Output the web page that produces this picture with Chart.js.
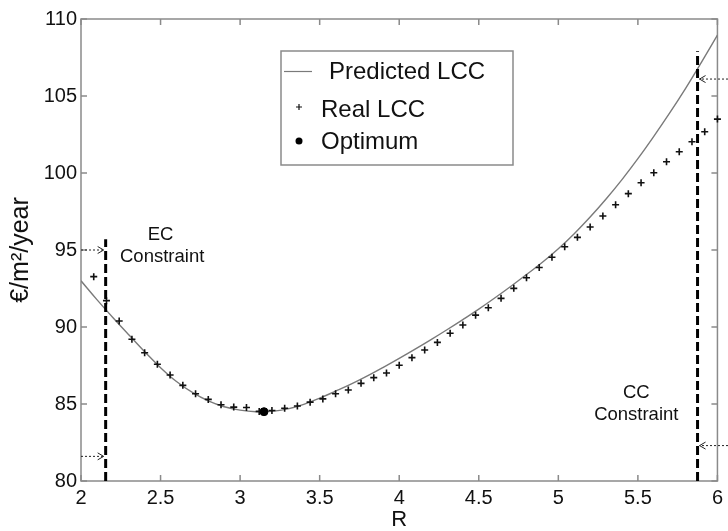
<!DOCTYPE html>
<html>
<head>
<meta charset="UTF-8">
<title>Predicted vs Real LCC</title>
<script src="https://cdn.jsdelivr.net/npm/chart.js@4.4.1/dist/chart.umd.min.js"></script>
<style>
    html, body { margin: 0; padding: 0; background: #fff; }
</style>
</head>
<body>
<canvas id="myChart" width="728" height="531"></canvas>
<script>
    // predicted life cycle cost curve
    var predR = [2.0, 2.1, 2.2, 2.3, 2.4, 2.5, 2.6, 2.7, 2.8, 2.9, 3.0, 3.1, 3.2, 3.3, 3.4, 3.5, 3.6, 3.7, 3.8, 3.9, 4.0,
                 4.1, 4.2, 4.3, 4.4, 4.5, 4.6, 4.7, 4.8, 4.9, 5.0, 5.1, 5.2, 5.3, 5.4, 5.5, 5.6, 5.7, 5.8, 5.9, 6.0];
    var predLCC = [93.0, 91.78, 90.62, 89.5, 88.4, 87.36, 86.46, 85.75, 85.2, 84.82, 84.6, 84.5, 84.52, 84.68, 84.98, 85.38,
                   85.83, 86.3, 86.82, 87.38, 87.96, 88.56, 89.18, 89.82, 90.48, 91.16, 91.88, 92.63, 93.41, 94.2, 95.08,
                   96.06, 97.14, 98.31, 99.57, 100.93, 102.38, 103.9, 105.5, 107.2, 108.95];

    // real life cycle cost samples
    var realR = [2.08, 2.16, 2.24, 2.32, 2.40, 2.48, 2.56, 2.64, 2.72, 2.80, 2.88, 2.96, 3.04, 3.12, 3.20, 3.28, 3.36,
                 3.44, 3.52, 3.60, 3.68, 3.76, 3.84, 3.92, 4.00, 4.08, 4.16, 4.24, 4.32, 4.40, 4.48, 4.56, 4.64, 4.72,
                 4.80, 4.88, 4.96, 5.04, 5.12, 5.20, 5.28, 5.36, 5.44, 5.52, 5.60, 5.68, 5.76, 5.84, 5.92, 6.00];
    var realLCC = [93.27, 91.71, 90.39, 89.2, 88.33, 87.58, 86.88, 86.21, 85.67, 85.30, 84.95, 84.80, 84.77, 84.52, 84.58,
                   84.72, 84.87, 85.12, 85.33, 85.67, 85.91, 86.34, 86.71, 87.01, 87.52, 88.01, 88.51, 89.0, 89.59, 90.13,
                   90.77, 91.25, 91.86, 92.51, 93.2, 93.86, 94.53, 95.21, 95.82, 96.49, 97.21, 97.94, 98.66, 99.37,
                   100.02, 100.73, 101.38, 102.03, 102.68, 103.5];

    var optR = [3.15];
    var optLCC = [84.5];

    // constraints
    var ecR = 2.155, ecTop = 95.7, ecArrows = [95.0, 81.6];
    var ccR = 5.875, ccTop = 107.9, ccArrows = [106.1, 82.3];

    var xTicks = [2, 2.5, 3, 3.5, 4, 4.5, 5, 5.5, 6];
    var yTicks = [80, 85, 90, 95, 100, 105, 110];

    var FONT = '"Liberation Sans", Arial, Helvetica, sans-serif';

    function pts(xs, ys) {
        return xs.map(function(v, i) { return {x: v, y: ys[i]}; });
    }

    function hArrow(ctx, xFrom, xTo, yPix) {
        ctx.save();
        ctx.strokeStyle = '#222';
        ctx.lineWidth = 1;
        ctx.setLineDash([2, 2]);
        ctx.beginPath();
        ctx.moveTo(xFrom, yPix);
        ctx.lineTo(xTo, yPix);
        ctx.stroke();
        ctx.setLineDash([]);
        var d = xTo > xFrom ? -1 : 1;
        ctx.beginPath();
        ctx.moveTo(xTo + d * 6, yPix - 3.5);
        ctx.lineTo(xTo, yPix);
        ctx.lineTo(xTo + d * 6, yPix + 3.5);
        ctx.stroke();
        ctx.restore();
    }

    var framePlugin = {
        id: 'frame',
        beforeDatasetsDraw: function(chart) {
            var ctx = chart.ctx, a = chart.chartArea, xs = chart.scales.x, ys = chart.scales.y;
            ctx.save();
            ctx.strokeStyle = '#8a8a8a';
            ctx.lineWidth = 1.5;
            ctx.strokeRect(a.left, a.top, a.right - a.left, a.bottom - a.top);
            ctx.beginPath();
            xTicks.forEach(function(v) {
                var p = xs.getPixelForValue(v);
                ctx.moveTo(p, a.bottom); ctx.lineTo(p, a.bottom - 6);
                ctx.moveTo(p, a.top); ctx.lineTo(p, a.top + 6);
            });
            yTicks.forEach(function(v) {
                var p = ys.getPixelForValue(v);
                ctx.moveTo(a.left, p); ctx.lineTo(a.left + 6, p);
                ctx.moveTo(a.right, p); ctx.lineTo(a.right - 6, p);
            });
            ctx.stroke();
            ctx.restore();
        },
        afterDatasetsDraw: function(chart) {
            var ctx = chart.ctx, a = chart.chartArea, xs = chart.scales.x, ys = chart.scales.y;
            var ecPix = xs.getPixelForValue(ecR), ccPix = xs.getPixelForValue(ccR);
            ecArrows.forEach(function(v) { hArrow(ctx, a.left, ecPix - 2, ys.getPixelForValue(v)); });
            ccArrows.forEach(function(v) { hArrow(ctx, chart.width, ccPix + 2, ys.getPixelForValue(v)); });

            ctx.save();
            ctx.fillStyle = '#111';
            ctx.textAlign = 'center';
            ctx.textBaseline = 'middle';
            ctx.font = '18.5px ' + FONT;
            ctx.fillText('EC', xs.getPixelForValue(2.5), ys.getPixelForValue(95.97));
            ctx.fillText('Constraint', xs.getPixelForValue(2.51), ys.getPixelForValue(94.55));
            ctx.fillText('CC', xs.getPixelForValue(5.49), ys.getPixelForValue(85.71));
            ctx.fillText('Constraint', xs.getPixelForValue(5.49), ys.getPixelForValue(84.29));

            // legend box
            var lx = a.left + 200, ly = a.top + 32, lw = 232, lh = 114;
            ctx.fillStyle = '#fff';
            ctx.fillRect(lx, ly, lw, lh);
            ctx.strokeStyle = '#8a8a8a';
            ctx.lineWidth = 1.5;
            ctx.strokeRect(lx, ly, lw, lh);

            ctx.strokeStyle = '#7a7a7a';
            ctx.lineWidth = 1.2;
            ctx.beginPath();
            ctx.moveTo(lx + 3, ly + 20.5); ctx.lineTo(lx + 31, ly + 20.5);
            ctx.stroke();

            ctx.strokeStyle = '#111';
            ctx.lineWidth = 1.2;
            ctx.beginPath();
            ctx.moveTo(lx + 15, ly + 56); ctx.lineTo(lx + 21, ly + 56);
            ctx.moveTo(lx + 18, ly + 53); ctx.lineTo(lx + 18, ly + 59);
            ctx.stroke();

            ctx.fillStyle = '#000';
            ctx.beginPath();
            ctx.arc(lx + 18, ly + 90, 3.5, 0, Math.PI * 2);
            ctx.fill();

            ctx.fillStyle = '#111';
            ctx.textAlign = 'left';
            ctx.font = '24px ' + FONT;
            ctx.fillText('Predicted LCC', lx + 48, ly + 21);
            ctx.fillText('Real LCC', lx + 40, ly + 59);
            ctx.fillText('Optimum', lx + 40, ly + 91);
            ctx.restore();
        }
    };

    var myChart = new Chart('myChart', {
        type: 'scatter',
        data: {
            datasets: [{
                label: 'EC Constraint',
                type: 'line',
                data: pts([ecR, ecR], [80, ecTop]),
                borderColor: '#000',
                borderWidth: 3,
                borderDash: [9, 4],
                pointRadius: 0,
                order: 0
            }, {
                label: 'CC Constraint',
                type: 'line',
                data: pts([ccR, ccR], [80, ccTop]),
                borderColor: '#000',
                borderWidth: 3,
                borderDash: [9, 4],
                pointRadius: 0,
                order: 0
            }, {
                label: 'Optimum',
                data: pts(optR, optLCC),
                pointStyle: 'circle',
                pointRadius: 4,
                backgroundColor: '#000',
                borderColor: '#000',
                order: 1
            }, {
                label: 'Real LCC',
                data: pts(realR, realLCC),
                pointStyle: 'cross',
                pointRadius: 3.5,
                borderColor: '#111',
                borderWidth: 1.6,
                clip: false,
                order: 2
            }, {
                label: 'Predicted LCC',
                type: 'line',
                data: pts(predR, predLCC),
                borderColor: '#7a7a7a',
                borderWidth: 1.4,
                pointRadius: 0,
                tension: 0.4,
                order: 3
            }]
        },
        options: {
            responsive: false,
            animation: false,
            layout: { padding: { top: 19, right: 6, left: 0, bottom: 0 } },
            plugins: { legend: { display: false }, tooltip: { enabled: false } },
            scales: {
                x: {
                    type: 'linear', min: 2, max: 6,
                    afterBuildTicks: function(s) { s.ticks = xTicks.map(function(v) { return {value: v}; }); },
                    afterFit: function(s) { s.height = 50; },
                    grid: { display: false, drawTicks: false },
                    border: { display: false },
                    ticks: {
                        color: '#111', padding: 5,
                        font: { family: FONT, size: 20 },
                        callback: function(v) { return String(v); }
                    },
                    title: {
                        display: true, text: 'R', color: '#111',
                        font: { family: FONT, size: 22, lineHeight: 1 },
                        padding: { top: 0, bottom: 0 }
                    }
                },
                y: {
                    type: 'linear', min: 80, max: 110,
                    afterBuildTicks: function(s) { s.ticks = yTicks.map(function(v) { return {value: v}; }); },
                    afterFit: function(s) { s.width = 81; },
                    grid: { display: false, drawTicks: false },
                    border: { display: false },
                    ticks: {
                        color: '#111', padding: 4,
                        font: { family: FONT, size: 20 },
                        callback: function(v) { return String(v); }
                    },
                    title: {
                        display: true, text: '€/m²/year', color: '#111',
                        font: { family: FONT, size: 25, lineHeight: 1 },
                        padding: { top: 9, bottom: 0 }
                    }
                }
            }
        },
        plugins: [framePlugin]
    });
</script>
</body>
</html>
